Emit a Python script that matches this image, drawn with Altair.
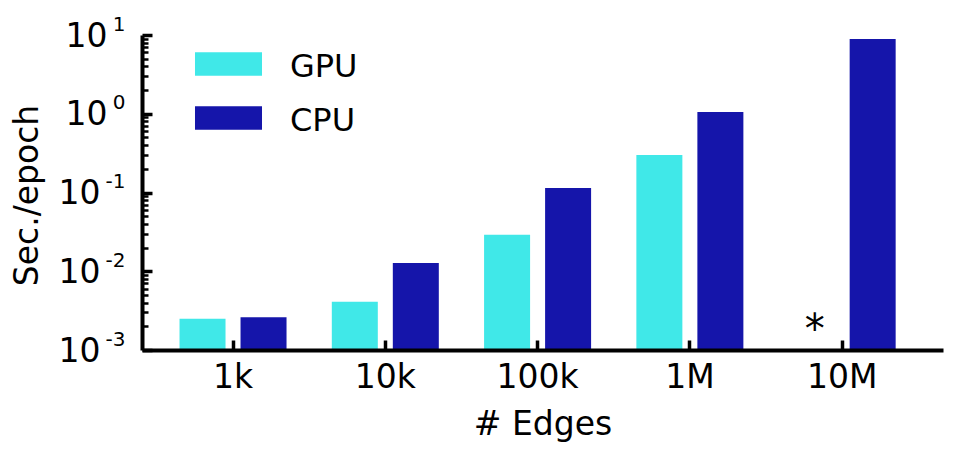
import altair as alt
import pandas as pd

# ---- data ----
edges = ["1k", "10k", "100k", "1M", "10M"]
devices = ["GPU", "CPU"]
gpu_sec = [0.0025, 0.0041, 0.029, 0.30, None]   # no GPU run at 10M (marked "*")
cpu_sec = [0.0026, 0.0127, 0.114, 1.05, 8.9]
colors = ["#40E8E8", "#1515AA"]

major_ticks = [0.001, 0.01, 0.1, 1, 10]
pos_decades = [1, 10]
neg_decades = [0.001, 0.01, 0.1]
minor_ticks = [0.002, 0.003, 0.004, 0.005, 0.006, 0.007, 0.008, 0.009,
               0.02, 0.03, 0.04, 0.05, 0.06, 0.07, 0.08, 0.09,
               0.2, 0.3, 0.4, 0.5, 0.6, 0.7, 0.8, 0.9,
               2, 3, 4, 5, 6, 7, 8, 9]

note_edges = ["10M"]
note_device = ["GPU"]
note_text = ["*"]
note_sec = [0.001]

rows = []
for e, g, c in zip(edges, gpu_sec, cpu_sec):
    if g is not None:
        rows.append({"edges": e, "device": "GPU", "sec": g})
    if c is not None:
        rows.append({"edges": e, "device": "CPU", "sec": c})
df = pd.DataFrame(rows)
notes = pd.DataFrame({"edges": note_edges, "device": note_device,
                      "label": note_text, "sec": note_sec})

FONT = "DejaVu Sans"

x_scale = alt.Scale(domain=edges, paddingInner=0, paddingOuter=0.13, align=0.376)
off_scale = alt.Scale(domain=devices, paddingInner=0.246, paddingOuter=0.371)
y_scale = alt.Scale(type="log", domain=[0.001, 10], nice=False)

main_x_axis = alt.Axis(
    orient="bottom", labelAngle=0, labelFont=FONT, labelFontSize=33,
    labelColor="black", labelPadding=11, ticks=False, tickSize=0,
    domain=True, domainWidth=4, domainColor="black", grid=False, zindex=1,
    title="# Edges", titleFont=FONT, titleFontSize=33, titleFontWeight="normal",
    titleColor="black", titleX=400.5, titleY=84, titleBaseline="alphabetic",
    titleAlign="center",
)

def base_label_axis(values, pad, **kw):
    return alt.Axis(
        orient="left", values=values, labelExpr="'10'",
        labelFont=FONT, labelFontSize=33, labelColor="black", labelPadding=pad,
        labelAlign="right", labelBaseline="alphabetic", labelOffset=11,
        labelFlush=False, labelOverlap=False,
        ticks=False, tickSize=0, grid=False, zindex=1, **kw,
    )

main_y_axis = base_label_axis(
    pos_decades, 35,
    domain=True, domainWidth=4, domainColor="black",
    title="Sec./epoch", titleFont=FONT, titleFontSize=33, titleFontWeight="normal",
    titleColor="black", titleX=-105, titleY=160, titleAngle=270,
    titleBaseline="alphabetic", titleAlign="center",
)
neg_y_axis = base_label_axis(neg_decades, 42, domain=False, title=None)

sup_y_axis = alt.Axis(
    orient="left", values=major_ticks,
    labelExpr="'' + round(log(datum.value) / LN10)",
    labelFont=FONT, labelFontSize=20, labelColor="black", labelPadding=17,
    labelAlign="right", labelBaseline="alphabetic", labelOffset=-5,
    labelFlush=False, labelOverlap=False,
    ticks=False, tickSize=0, domain=False, grid=False, title=None, zindex=1,
)
major_y_axis = alt.Axis(
    orient="left", values=major_ticks, labels=False, domain=False, grid=False,
    ticks=True, tickSize=10, tickWidth=3.5, tickColor="black", offset=-10,
    title=None, zindex=1,
)
minor_y_axis = alt.Axis(
    orient="left", values=minor_ticks, labels=False, domain=False, grid=False,
    ticks=True, tickSize=6, tickWidth=2.5, tickColor="black", offset=-6,
    title=None, zindex=1,
)
tick_x_axis = alt.Axis(
    orient="bottom", labels=False, domain=False, grid=False,
    ticks=True, tickSize=10, tickWidth=3.5, tickColor="black", offset=-10,
    title=None, zindex=1,
)

legend = alt.Legend(
    title=None, orient="none", legendX=62.5, legendY=8,
    symbolType="M-1.4,-0.612H1.4V0.362H-1.4Z", symbolSize=2291,
    symbolStrokeWidth=0, symbolOpacity=1,
    labelFont=FONT, labelFontSize=32, labelColor="black",
    labelOffset=37.5, rowPadding=14, padding=0,
)

bars = alt.Chart(df).mark_bar().encode(
    x=alt.X("edges:N", sort=edges, scale=x_scale, axis=main_x_axis),
    xOffset=alt.XOffset("device:N", sort=devices, scale=off_scale),
    y=alt.Y("sec:Q", scale=y_scale, axis=main_y_axis, stack=False),
    color=alt.Color("device:N", sort=devices,
                    scale=alt.Scale(domain=devices, range=colors), legend=legend),
)

note = alt.Chart(notes).mark_text(
    font=FONT, fontSize=40, color="black", align="center",
    baseline="alphabetic", dy=-7, dx=3,
).encode(
    x=alt.X("edges:N", sort=edges, scale=x_scale, axis=None),
    xOffset=alt.XOffset("device:N", sort=devices, scale=off_scale),
    y=alt.Y("sec:Q", scale=y_scale, axis=None),
    text="label:N",
)

def ghost(xaxis, yaxis):
    return alt.Chart(df).mark_point(opacity=0).encode(
        x=alt.X("edges:N", sort=edges, scale=x_scale, axis=xaxis),
        y=alt.Y("sec:Q", scale=y_scale, axis=yaxis),
    )

chart = alt.layer(
    bars,
    note,
    ghost(None, neg_y_axis),
    ghost(None, sup_y_axis),
    ghost(tick_x_axis, major_y_axis),
    ghost(None, minor_y_axis),
).resolve_axis(
    x="independent", y="independent"
).properties(
    width=801, height=315,
    autosize=alt.AutoSizeParams(type="none"),
    padding={"left": 134, "top": 27, "right": 6, "bottom": 96},
).configure(font=FONT).configure_view(strokeWidth=0, stroke="transparent")

chart.save("out.html", embed_options={"renderer": "svg", "actions": False})
